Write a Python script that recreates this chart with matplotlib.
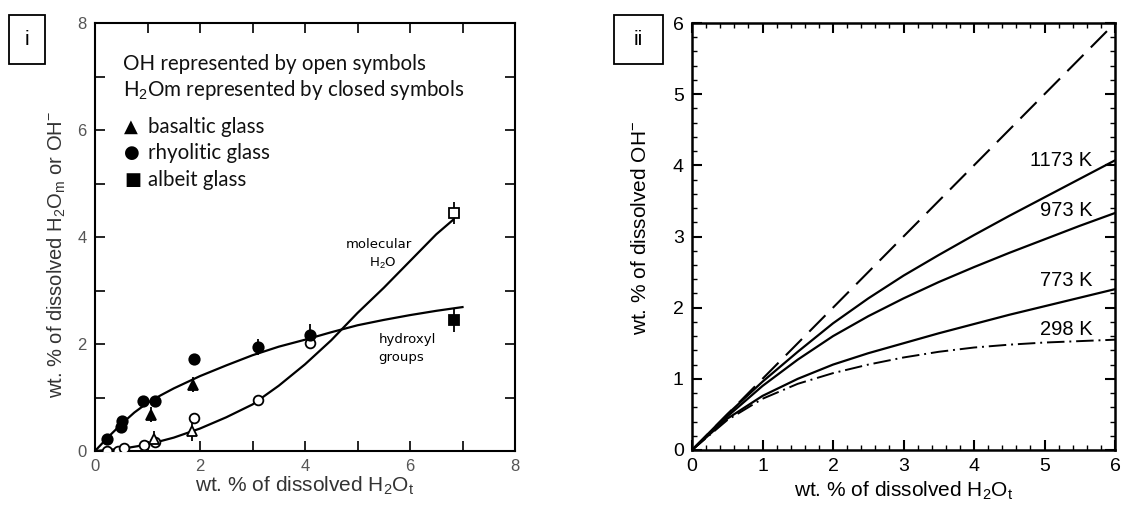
import numpy as np
import matplotlib
matplotlib.use('Agg')
import matplotlib.pyplot as plt
from matplotlib.patches import Rectangle

plt.rcParams['font.family'] = ['Liberation Sans', 'DejaVu Sans']
plt.rcParams['mathtext.fontset'] = 'custom'
plt.rcParams['mathtext.rm'] = 'Liberation Sans'
plt.rcParams['mathtext.it'] = 'Liberation Sans:italic'

# ---- panel i: measured species vs total water ----
rhy_closed_x = [0.22, 0.49, 0.51, 0.91, 1.15, 1.88, 3.1, 4.1]
rhy_closed_y = [0.22, 0.45, 0.56, 0.94, 0.94, 1.72, 1.94, 2.16]
rhy_closed_err = [0, 0, 0, 0, 0, 0.1, 0.15, 0.22]
rhy_open_x = [0.22, 0.44, 0.55, 0.93, 1.15, 1.89, 3.1, 4.1]
rhy_open_y = [0.0, 0.0, 0.06, 0.12, 0.16, 0.62, 0.95, 2.02]
rhy_open_err = [0, 0, 0, 0, 0, 0.08, 0, 0.12]
bas_closed_x = [1.07, 1.86]
bas_closed_y = [0.68, 1.24]
bas_closed_err = [0.14, 0.14]
bas_open_x = [1.12, 1.84]
bas_open_y = [0.22, 0.37]
bas_open_err = [0.15, 0.18]
alb_closed_x = [6.84]
alb_closed_y = [2.44]
alb_closed_err = [0.22]
alb_open_x = [6.84]
alb_open_y = [4.45]
alb_open_err = [0.2]

hydroxyl_x = [0, 0.25, 0.5, 0.75, 1.0, 1.25, 1.5, 2.0, 2.5, 3.0, 3.5, 4.0, 4.5, 5.0, 5.5, 6.0, 6.5, 7.0]
hydroxyl_y = [0, 0.26, 0.5, 0.72, 0.9, 1.04, 1.17, 1.4, 1.6, 1.79, 1.95, 2.08, 2.22, 2.35, 2.45, 2.54, 2.62, 2.69]
molecular_x = [0, 0.5, 1.0, 1.5, 2.0, 2.5, 3.0, 3.5, 4.0, 4.5, 5.0, 5.5, 6.0, 6.5, 6.82]
molecular_y = [0, 0.04, 0.12, 0.25, 0.42, 0.63, 0.87, 1.22, 1.62, 2.07, 2.58, 3.05, 3.55, 4.05, 4.32]

# ---- panel ii: modelled OH- vs total water ----
model_x = [0, 0.5, 1.0, 1.5, 2.0, 2.5, 3.0, 3.5, 4.0, 4.5, 5.0, 5.5, 6.0]
oh_1173 = [0, 0.5, 0.96, 1.38, 1.78, 2.13, 2.45, 2.74, 3.02, 3.29, 3.55, 3.81, 4.07]
oh_973 = [0, 0.47, 0.9, 1.27, 1.6, 1.88, 2.13, 2.36, 2.57, 2.77, 2.96, 3.15, 3.33]
oh_773 = [0, 0.44, 0.76, 1.0, 1.2, 1.36, 1.5, 1.64, 1.77, 1.9, 2.02, 2.14, 2.26]
oh_298 = [0, 0.42, 0.72, 0.93, 1.08, 1.2, 1.3, 1.38, 1.44, 1.48, 1.51, 1.53, 1.55]
ideal_x = [0, 5.9]
ideal_y = [0, 5.9]
temp_labels = ['1173 K', '973 K', '773 K', '298 K']
temp_label_y = [4.07, 3.36, 2.38, 1.70]

W, H = 1126, 508
fig = plt.figure(figsize=(W / 100, H / 100), dpi=100)

ax1 = fig.add_axes([95 / W, (H - 451) / H, 420 / W, 428 / H])
ax2 = fig.add_axes([692 / W, (H - 450) / H, 423 / W, 427 / H])

# panel i
ax1.plot(hydroxyl_x, hydroxyl_y, color='black', lw=1.6)
ax1.plot(molecular_x, molecular_y, color='black', lw=1.6)

def pts(ax, x, y, err, marker, filled, ms):
    ax.errorbar(x, y, yerr=err, fmt=marker, ms=ms, color='black',
                mfc='black' if filled else 'white', mec='black', mew=1.3,
                elinewidth=1.3, capsize=0, zorder=3)

pts(ax1, rhy_open_x, rhy_open_y, rhy_open_err, 'o', False, 7)
pts(ax1, bas_open_x, bas_open_y, bas_open_err, '^', False, 7)
pts(ax1, alb_open_x, alb_open_y, alb_open_err, 's', False, 6.5)
pts(ax1, rhy_closed_x, rhy_closed_y, rhy_closed_err, 'o', True, 7.5)
pts(ax1, bas_closed_x, bas_closed_y, bas_closed_err, '^', True, 7.5)
pts(ax1, alb_closed_x, alb_closed_y, alb_closed_err, 's', True, 7)

ax1.set_xlim(0, 8)
ax1.set_ylim(0, 8)
ax1.set_xticks(range(0, 9, 2))
ax1.set_yticks(range(0, 9, 2))
ax1.set_xticks(range(0, 9), minor=True)
ax1.set_yticks(range(0, 9), minor=True)
ax1.tick_params(which='both', direction='in', top=True, right=True,
                length=7, width=1.2, labelsize=12, labelcolor='#555555', pad=6)
for s in ax1.spines.values():
    s.set_linewidth(1.5)

legend_font = ['Lato', 'DejaVu Sans']
ax1.text(0.53, 7.24, 'OH represented by open symbols', fontsize=14.8,
         family=legend_font, va='center', color='#111111')
ax1.text(0.53, 6.75, 'H$_2$Om represented by closed symbols', fontsize=14.8,
         family=legend_font, va='center', color='#111111')
for yy, sym, name in [(6.06, '▲', 'basaltic glass'),
                      (5.57, '●', 'rhyolitic glass'),
                      (5.07, '■', 'albeit glass')]:
    ax1.text(0.55, yy, sym, fontsize=13, family=['DejaVu Sans'], va='center')
    ax1.text(1.0, yy, name, fontsize=14.8, family=legend_font, va='center',
             color='#111111')

ax1.text(5.4, 3.86, 'molecular', fontsize=9.5, family=['DejaVu Sans'],
         ha='center', va='center')
ax1.text(5.47, 3.51, 'H$_2$O', fontsize=9.5, family=['DejaVu Sans'],
         ha='center', va='center')
ax1.text(5.4, 2.08, 'hydroxyl', fontsize=9.5, family=['DejaVu Sans'], va='center')
ax1.text(5.4, 1.74, 'groups', fontsize=9.5, family=['DejaVu Sans'], va='center')

ax1.set_xlabel('wt. % of dissolved H$_2$O$_\\mathrm{t}$', fontsize=15,
               color='#333333', labelpad=0)
ax1.set_ylabel('wt. % of dissolved H$_2$O$_\\mathrm{m}$ or OH$^{-}$', fontsize=14.5,
               color='#333333')
ax1.yaxis.set_label_coords(-0.065, 0.46)

# panel ii
ax2.plot(ideal_x, ideal_y, color='black', lw=1.5, linestyle=(0, (11, 5)))
ax2.plot(model_x, oh_1173, color='black', lw=1.6)
ax2.plot(model_x, oh_973, color='black', lw=1.6)
ax2.plot(model_x, oh_773, color='black', lw=1.6)
ax2.plot(model_x, oh_298, color='black', lw=1.4, linestyle=(0, (9, 2.5, 1, 2.5)))
for lab, yy in zip(temp_labels, temp_label_y):
    ax2.text(5.68, yy, lab, fontsize=14.5, ha='right', va='center')

ax2.set_xlim(0, 6)
ax2.set_ylim(0, 6)
ax2.set_xticks(range(0, 7))
ax2.set_yticks(range(0, 7))
ax2.set_xticks(np.arange(0, 6.01, 0.2), minor=True)
ax2.set_yticks(np.arange(0, 6.01, 0.2), minor=True)
ax2.tick_params(which='major', direction='in', top=True, right=True,
                length=7, width=1.5, labelsize=14, pad=6)
ax2.tick_params(which='minor', direction='in', top=True, right=True,
                length=3.5, width=1.0)
for s in ax2.spines.values():
    s.set_linewidth(1.8)
ax2.set_xlabel('wt. % of dissolved H$_2$O$_\\mathrm{t}$', fontsize=15, labelpad=3)
ax2.set_ylabel('wt. % of dissolved OH$^{-}$', fontsize=15)
ax2.yaxis.set_label_coords(-0.1, 0.52)

# panel tags
for x0, w, tag in [(9, 36, 'i'), (614, 49, 'ii')]:
    fig.patches.append(Rectangle((x0 / W, (H - 64) / H), w / W, 49 / H,
                                 transform=fig.transFigure, fill=False,
                                 ec='black', lw=1.3))
    fig.text((x0 + w / 2) / W, (H - 39.5) / H, tag,
             fontsize=15, ha='center', va='center')

fig.savefig('out.png', dpi=100)
